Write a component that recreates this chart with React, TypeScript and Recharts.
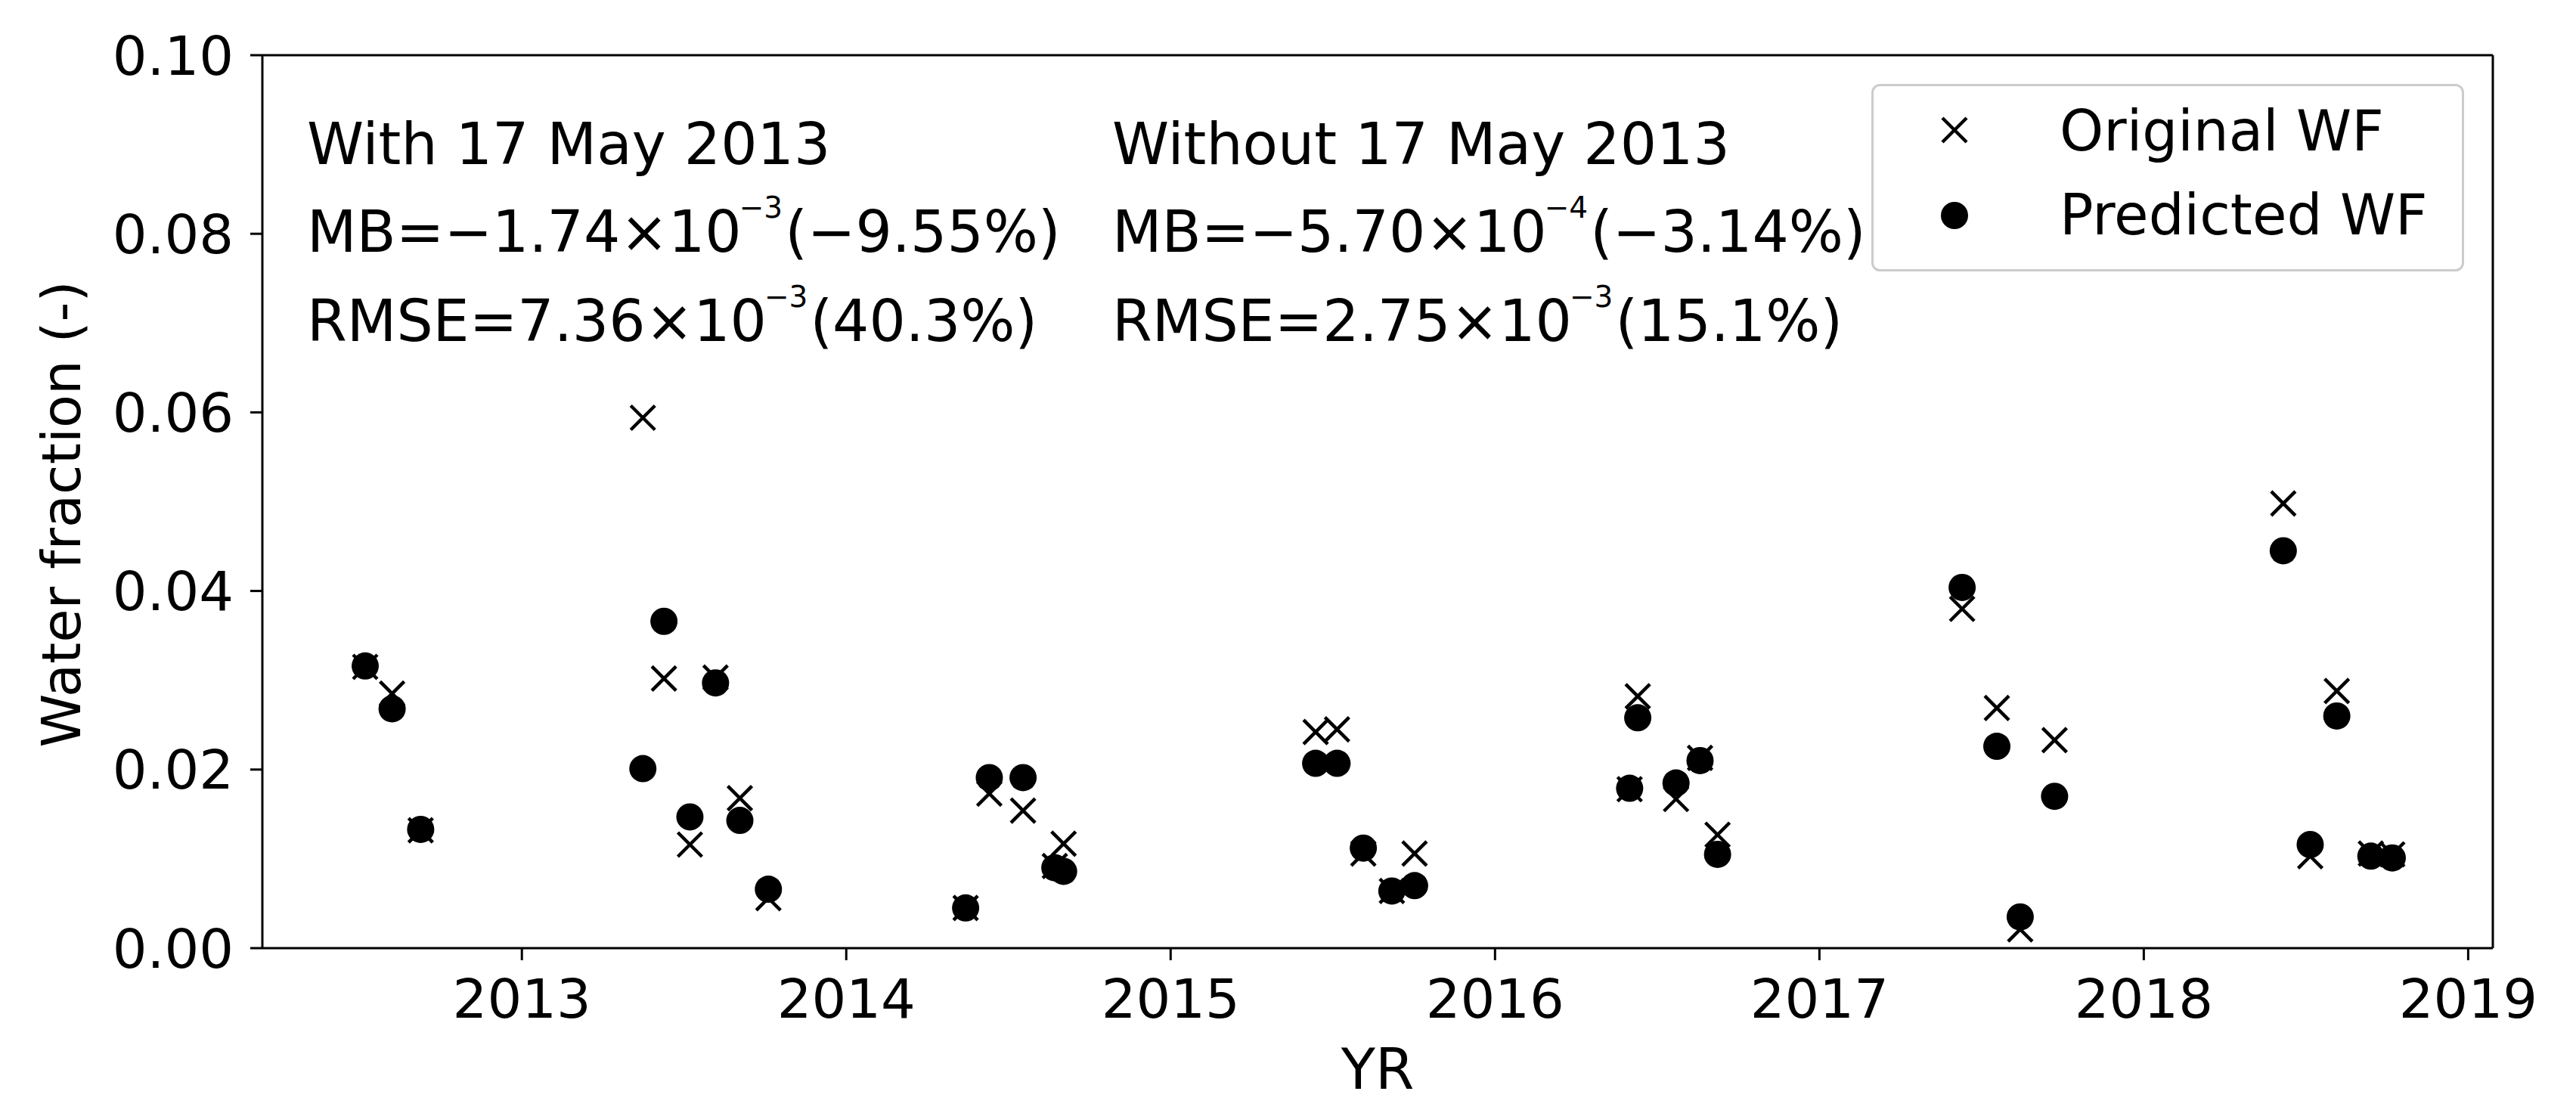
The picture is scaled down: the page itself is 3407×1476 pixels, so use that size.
import { ScatterChart, Scatter, XAxis, YAxis, ReferenceLine, Legend, Customized } from "recharts";

// acquisition dates (decimal year) and water fractions
const years = [
  2012.517, 2012.6, 2012.688,
  2013.373, 2013.438, 2013.518, 2013.597, 2013.672, 2013.76,
  2014.368, 2014.441, 2014.545, 2014.643, 2014.67,
  2015.447, 2015.513, 2015.594, 2015.682, 2015.752,
  2016.415, 2016.44, 2016.558, 2016.632, 2016.686,
  2017.44, 2017.547, 2017.619, 2017.725,
  2018.43, 2018.513, 2018.595, 2018.7, 2018.766,
];
const originalWF = [
  0.0315, 0.0285, 0.0132,
  0.0594, 0.0302, 0.0116, 0.0303, 0.0168, 0.0056,
  0.0045, 0.0173, 0.0154, 0.0092, 0.0117,
  0.0242, 0.0245, 0.0106, 0.0064, 0.0106,
  0.0178, 0.0282, 0.0167, 0.0213, 0.0127,
  0.038, 0.0269, 0.0021, 0.0233,
  0.0498, 0.0103, 0.0288, 0.0106, 0.0105,
];
const predictedWF = [
  0.0316, 0.0268, 0.0133,
  0.0201, 0.0366, 0.0147, 0.0297, 0.0143, 0.0066,
  0.0045, 0.0191, 0.0191, 0.009, 0.0086,
  0.0207, 0.0207, 0.0112, 0.0064, 0.007,
  0.0179, 0.0258, 0.0185, 0.021, 0.0105,
  0.0404, 0.0226, 0.0035, 0.017,
  0.0445, 0.0116, 0.026, 0.0103, 0.0101,
];
const yearTicks = [2013, 2014, 2015, 2016, 2017, 2018, 2019];
const fractionTicks = [0, 0.02, 0.04, 0.06, 0.08, 0.1];
const xDomain = [2012.2, 2019.076];

const FONT = "DejaVu Sans";
const W = 3407;
const H = 1476;

const originalData = years.map((x, i) => ({ x, y: originalWF[i] }));
const predictedData = years.map((x, i) => ({ x, y: predictedWF[i] }));

const Cross = (props: any) => {
  const { cx, cy } = props;
  if (cx == null || cy == null) return null;
  const s = 16;
  return (
    <g stroke="#000" strokeWidth={4.5}>
      <line x1={cx - s} y1={cy - s} x2={cx + s} y2={cy + s} />
      <line x1={cx - s} y1={cy + s} x2={cx + s} y2={cy - s} />
    </g>
  );
};

const Dot = (props: any) => {
  const { cx, cy } = props;
  if (cx == null || cy == null) return null;
  return <circle cx={cx} cy={cy} r={18} fill="#000" />;
};

const StatLine = ({ x, y, head, exp, tail }: { x: number; y: number; head: string; exp: string; tail: string }) => (
  <text x={x} y={y} fontFamily={FONT} fontSize={76} fill="#000">
    <tspan>{head}</tspan>
    <tspan fontSize={39} dx={-3} dy={-45}>{exp}</tspan>
    <tspan fontSize={76} dx={3} dy={45}>{tail}</tspan>
  </text>
);

const Annotations = () => (
  <g>
    <text x={406} y={217} fontFamily={FONT} fontSize={76} fill="#000">With 17 May 2013</text>
    <StatLine x={406} y={333} head="MB=−1.74×10" exp="−3" tail="(−9.55%)" />
    <StatLine x={406} y={451} head="RMSE=7.36×10" exp="−3" tail="(40.3%)" />
    <text x={1471} y={217} fontFamily={FONT} fontSize={76} fill="#000">Without 17 May 2013</text>
    <StatLine x={1471} y={333} head="MB=−5.70×10" exp="−4" tail="(−3.14%)" />
    <StatLine x={1471} y={451} head="RMSE=2.75×10" exp="−3" tail="(15.1%)" />
    <text
      transform="translate(106,680) rotate(-90)"
      textAnchor="middle"
      fontFamily={FONT}
      fontSize={72}
      fill="#000"
    >
      Water fraction (-)
    </text>
    <text x={1822} y={1440} textAnchor="middle" fontFamily={FONT} fontSize={74} fill="#000">
      YR
    </text>
  </g>
);

const LegendBox = () => (
  <svg width={784} height={248} style={{ display: "block" }}>
    <rect x={1.5} y={1.5} width={781} height={245} rx={10} ry={10} fill="#fff" fillOpacity={0.8} stroke="#cccccc" strokeWidth={3} />
    <Cross cx={110} cy={61} />
    <text x={249} y={88} fontFamily={FONT} fontSize={74} fill="#000">Original WF</text>
    <Dot cx={110} cy={174} />
    <text x={249} y={199} fontFamily={FONT} fontSize={74} fill="#000">Predicted WF</text>
  </svg>
);

export default function App() {
  return (
    <div style={{ position: "absolute", left: 0, top: 0, width: W, height: H, background: "#fff" }}>
      <ScatterChart width={W} height={H} margin={{ top: 73, right: 110, bottom: 0, left: 0 }}>
        <XAxis
          type="number"
          dataKey="x"
          domain={xDomain}
          ticks={yearTicks}
          allowDataOverflow
          height={222}
          tickSize={16}
          tickMargin={25}
          axisLine={{ stroke: "#000", strokeWidth: 3 }}
          tickLine={{ stroke: "#000", strokeWidth: 3 }}
          tick={{ fontSize: 72, fontFamily: FONT, fill: "#000" }}
        />
        <YAxis
          type="number"
          dataKey="y"
          domain={[0, 0.1]}
          ticks={fractionTicks}
          allowDataOverflow
          width={347}
          tickSize={16}
          tickMargin={22}
          tickFormatter={(v: number) => v.toFixed(2)}
          axisLine={{ stroke: "#000", strokeWidth: 3 }}
          tickLine={{ stroke: "#000", strokeWidth: 3 }}
          tick={{ fontSize: 72, fontFamily: FONT, fill: "#000" }}
        />
        <ReferenceLine y={0.1} stroke="#000" strokeWidth={3} />
        <ReferenceLine x={xDomain[1]} stroke="#000" strokeWidth={3} />
        <Scatter name="Original WF" data={originalData} shape={Cross} isAnimationActive={false} />
        <Scatter name="Predicted WF" data={predictedData} shape={Dot} isAnimationActive={false} />
        <Customized component={Annotations} />
        <Legend
          layout="vertical"
          align="center"
          verticalAlign="middle"
          content={() => <LegendBox />}
          wrapperStyle={{ left: 2475, top: 111, width: 784, height: 248 }}
        />
      </ScatterChart>
    </div>
  );
}
